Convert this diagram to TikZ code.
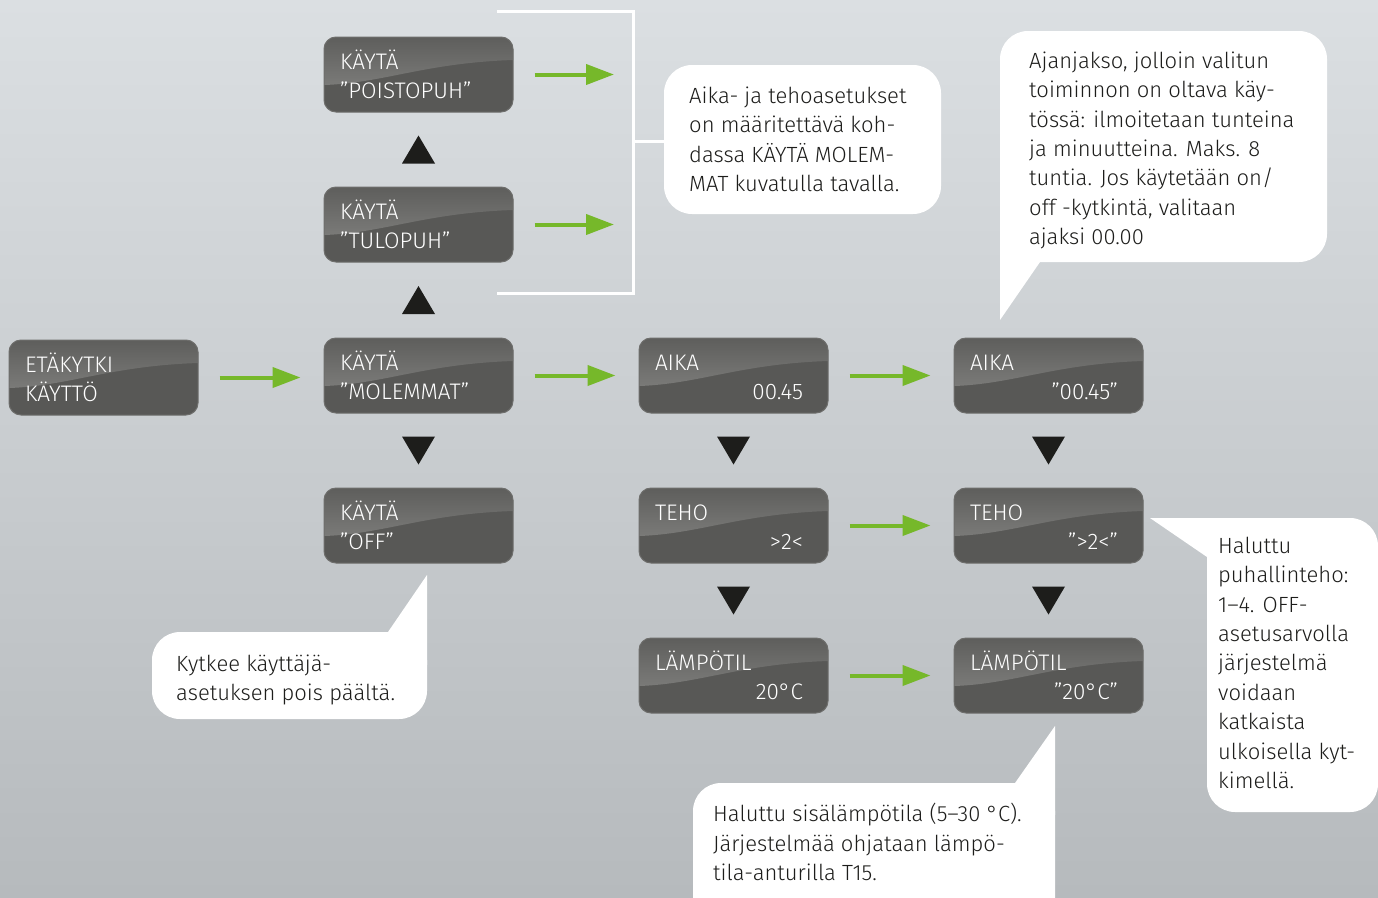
\documentclass[tikz,border=0pt]{standalone}
\usepackage{fontspec}
\setmainfont{Fira Sans Light}
\usetikzlibrary{calc,arrows.meta}

\definecolor{bgtop}{HTML}{DBDFE2}
\definecolor{bgbottom}{HTML}{B6BABD}
\definecolor{boxgray}{HTML}{585856}
\definecolor{boxdark}{HTML}{5E5E5C}
\definecolor{boxlight}{HTML}{8A8A88}
\definecolor{boxedge}{HTML}{6E6E6C}
\definecolor{arrowgreen}{HTML}{76B82A}
\definecolor{inkblack}{HTML}{1D1D1B}

\newcommand{\twolines}[2]{\rule{0pt}{19pt}#1\\#2}
\newcommand{\rightval}[1]{\hspace*{\fill}#1\hspace*{9pt}}
\newcommand{\triup}[2]{\fill[inkblack] ($(#1)!.5!(#2)$) +(-16.5,14) -- +(16.5,14) -- +(0,-14) -- cycle;}
\newcommand{\tridown}[2]{\fill[inkblack] ($(#1)!.5!(#2)$) +(-16.5,-14) -- +(16.5,-14) -- +(0,14) -- cycle;}

\tikzset{
  panel/.style={rectangle, rounded corners=12pt, minimum width=189pt, minimum height=75pt,
    text width=157pt, inner xsep=16pt, inner ysep=0pt, align=left,
    fill=boxgray, draw=boxedge, line width=1pt, text=white,
    font=\fontsize{22.5}{29.5}\selectfont,
    path picture={
      \shade[sharp corners, top color=boxdark, bottom color=boxlight]
        (path picture bounding box.north west) -- (path picture bounding box.north east)
        -- ([yshift=-23pt]path picture bounding box.north east)
        .. controls +(-89pt,-3pt) and +(60pt,2pt) .. ([yshift=-48pt]path picture bounding box.north west)
        -- cycle;
    }},
  flow/.style={draw=arrowgreen, line width=4pt, -{Triangle[length=28pt,width=20pt]},
    shorten <=21pt, shorten >=23pt},
  bracket/.style={draw=white, line width=3pt},
  note/.style={fill=white, rounded corners=28pt},
  notetext/.style={anchor=north west, inner sep=0pt, align=left, text=inkblack,
    font=\fontsize{22}{29.4}\selectfont}
}

\begin{document}
\begin{tikzpicture}[x=1pt, y=-1pt]

% Background
\useasboundingbox (0,0) rectangle (1378,897);
\clip (0,0) rectangle (1378,897);
\shade[top color=bgtop, bottom color=bgbottom] (0,0) rectangle (1378,897);

% Bracket round the two upper choices
\coordinate (brtop) at (633,11);
\coordinate (brbot) at (633,293);
\coordinate (brmid) at (633,141);
\coordinate (noteA) at (664,141);
\draw[bracket] (497,11) -- (brtop) -- (brbot) -- (497,293);
\draw[bracket] (brmid) -- (noteA);

% Display panels
\node[panel] (remote) at (103.5,377.5) {\twolines{ETÄKYTKI}{KÄYTTÖ}};
\node[panel] (exhaust) at (418.5,74.5) {\twolines{KÄYTÄ}{”POISTOPUH”}};
\node[panel] (supply) at (418.5,224.5) {\twolines{KÄYTÄ}{”TULOPUH”}};
\node[panel] (both) at (418.5,375.5) {\twolines{KÄYTÄ}{”MOLEMMAT”}};
\node[panel] (off) at (418.5,525.5) {\twolines{KÄYTÄ}{”OFF”}};
\node[panel] (time) at (733.5,375.5) {\twolines{AIKA}{\rightval{00.45}}};
\node[panel] (power) at (733.5,525.5) {\twolines{TEHO}{\rightval{>2<}}};
\node[panel] (temp) at (733.5,675.5) {\twolines{LÄMPÖTIL}{\rightval{20°C}}};
\node[panel] (timeset) at (1048.5,375.5) {\twolines{AIKA}{\rightval{”00.45”}}};
\node[panel] (powerset) at (1048.5,525.5) {\twolines{TEHO}{\rightval{”>2<”}}};
\node[panel] (tempset) at (1048.5,675.5) {\twolines{LÄMPÖTIL}{\rightval{”20°C”}}};

% Green arrows
\draw[flow] (remote.east) -- (remote.east -| both.west);
\draw[flow] (both.east) -- (time.west);
\draw[flow] (time.east) -- (timeset.west);
\draw[flow] (power.east) -- (powerset.west);
\draw[flow] (temp.east) -- (tempset.west);
\draw[flow, shorten >=19pt] (exhaust.east) -- (exhaust.east -| brtop);
\draw[flow, shorten >=19pt] (supply.east) -- (supply.east -| brtop);

% Black triangles
\triup{supply.north}{exhaust.south}
\triup{both.north}{supply.south}
\tridown{both.south}{off.north}
\tridown{time.south}{power.north}
\tridown{power.south}{temp.north}
\tridown{timeset.south}{powerset.north}
\tridown{powerset.south}{tempset.north}

% Callouts
\fill[note] (664,65) rectangle (941,214);
\node[notetext] (noteset) at (689,85) {\rule{0pt}{18pt}Aika- ja tehoasetukset\\on määritettävä koh-\\dassa KÄYTÄ MOLEM-\\MAT kuvatulla tavalla.};

\fill[note] (1000,31) rectangle (1327,262);
\fill[white] (1000,320) -- (1040,262) -- (1040,225) -- (1000,225) -- cycle;
\node[notetext] (notetime) at (1029,50) {\rule{0pt}{18pt}Ajanjakso, jolloin valitun\\toiminnon on oltava käy-\\tössä: ilmoitetaan tunteina\\ja minuutteina. Maks. 8\\tuntia. Jos käytetään on/\\off -kytkintä, valitaan\\ajaksi 00.00};

\fill[note] (1207,518) rectangle (1378,812);
\fill[white] (1150,518) -- (1240,518) -- (1240,557) -- (1207,557) -- cycle;
\node[notetext] (notepower) at (1218,535) {\rule{0pt}{18pt}Haluttu\\puhallinteho:\\1–4. OFF-\\asetusarvolla\\järjestelmä\\voidaan\\katkaista\\ulkoisella kyt-\\kimellä.};

\fill[note] (693,783) rectangle (1055,930);
\fill[white] (1015,783) -- (1055,726) -- (1055,815) -- (1015,815) -- cycle;
\node[notetext] (notetemp) at (713,803) {\rule{0pt}{18pt}Haluttu sisälämpötila (5–30 °C).\\Järjestelmää ohjataan lämpö-\\tila-anturilla T15.};

\fill[note] (152,632) rectangle (427,719);
\fill[white] (388,632) -- (427,575) -- (427,665) -- (388,665) -- cycle;
\node[notetext] (noteoff) at (176,653) {\rule{0pt}{18pt}Kytkee käyttäjä-\\asetuksen pois päältä.};

\end{tikzpicture}
\end{document}
